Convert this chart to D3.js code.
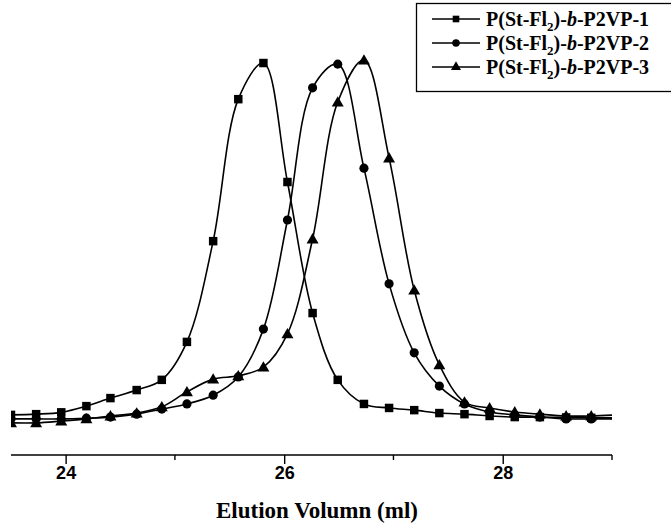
<!DOCTYPE html>
<html>
<head>
<meta charset="utf-8">
<script src="https://cdn.jsdelivr.net/npm/d3@7"></script>
<style>
  body { margin: 0; background: #fff; }
  svg { display: block; }
</style>
</head>
<body>
<svg class="mySVG"></svg>
<script>
var width = 671, height = 526;

// elution volume (ml) of each sampled point
var volume = [23.50, 23.73, 23.96, 24.19, 24.41, 24.65, 24.88, 25.11, 25.35, 25.58,
              25.81, 26.03, 26.26, 26.49, 26.73, 26.96, 27.19, 27.42, 27.65, 27.88,
              28.11, 28.34, 28.58, 28.81, 29.04];

// normalized detector response
var sample1 = [0.014, 0.016, 0.021, 0.038, 0.060, 0.082, 0.110, 0.214, 0.490, 0.879,
               0.978, 0.652, 0.293, 0.110, 0.044, 0.033, 0.027, 0.019, 0.016, 0.011,
               0.008, 0.008, 0.007, 0.006, 0.006];
var sample2 = [0.003, 0.003, 0.003, 0.005, 0.008, 0.016, 0.030, 0.044, 0.068, 0.118,
               0.249, 0.548, 0.910, 0.975, 0.690, 0.373, 0.184, 0.093, 0.044, 0.022,
               0.014, 0.008, 0.003, 0.003, 0.003];
var sample3 = [-0.008, -0.008, -0.003, 0.003, 0.011, 0.019, 0.036, 0.077, 0.112, 0.121,
               0.145, 0.236, 0.496, 0.871, 0.986, 0.718, 0.356, 0.151, 0.049, 0.033,
               0.022, 0.016, 0.011, 0.011, 0.014];

var seriesNames = ["1", "2", "3"];
var symbols = [d3.symbolSquare, d3.symbolCircle, d3.symbolTriangle];
var majorTicks = [24, 26, 28];
var minorTicks = [25, 27, 29];

var series = [sample1, sample2, sample3].map((vals, i) => ({
    name: seriesNames[i],
    symbol: symbols[i],
    points: vals.map((v, j) => ({x: volume[j], y: v}))
}));

var margin = {left: 11, right: 59, top: 55, axis: 455};

var x = d3.scaleLinear()
    .domain([23.5, 29.0])
    .range([margin.left, width - margin.right]);

var y = d3.scaleLinear()
    .domain([0, 1])
    .range([420, margin.top]);

var svg = d3.select('.mySVG')
    .attr("width", width)
    .attr("height", height);

svg.append("defs").append("clipPath")
    .attr("id", "plot")
  .append("rect")
    .attr("x", x.range()[0])
    .attr("y", 0)
    .attr("width", x.range()[1] - x.range()[0])
    .attr("height", margin.axis);

var line = d3.line()
    .x(d => x(d.x))
    .y(d => y(d.y))
    .curve(d3.curveCatmullRom.alpha(0.5));

var plot = svg.append("g").attr("clip-path", "url(#plot)");

var sym = d3.symbol();
var symSize = [72, 66, 62];

series.forEach((s, i) => {
    plot.append("path")
        .datum(s.points)
        .attr("fill", "none")
        .attr("stroke", "#000")
        .attr("stroke-width", 1.6)
        .attr("d", line);

    plot.append("g")
        .selectAll("path")
        .data(s.points)
        .join("path")
            .attr("transform", d => `translate(${x(d.x)},${y(d.y) + (i === 2 ? 1 : 0)})`)
            .attr("d", sym.type(s.symbol).size(symSize[i])())
            .attr("fill", "#000");
});

// x axis
var axis = svg.append("g")
    .attr("transform", `translate(0,${margin.axis})`);

axis.call(d3.axisBottom(x)
        .tickValues(majorTicks)
        .tickSize(9)
        .tickFormat(d3.format("d")))
    .call(g => g.select(".domain").attr("stroke-width", 1.6).attr("d", `M${x.range()[0]},0H${x.range()[1]}`))
    .call(g => g.selectAll(".tick line").attr("stroke-width", 1.4))
    .call(g => g.selectAll(".tick text")
        .attr("dy", null)
        .attr("y", 24)
        .attr("font-family", "'Liberation Sans', Arial, sans-serif")
        .attr("font-weight", "bold")
        .attr("font-size", 18));

axis.append("g")
    .selectAll("line")
    .data(minorTicks)
    .join("line")
        .attr("x1", d => x(d))
        .attr("x2", d => x(d))
        .attr("y1", 0)
        .attr("y2", 5)
        .attr("stroke", "#000")
        .attr("stroke-width", 1.4);

svg.append("text")
    .attr("x", x(26.3))
    .attr("y", 518)
    .attr("text-anchor", "middle")
    .attr("font-family", "'Liberation Serif', 'Times New Roman', serif")
    .attr("font-weight", "bold")
    .attr("font-size", 23)
    .text("Elution Volumn (ml)");

// legend
var legend = svg.append("g");

legend.append("rect")
    .attr("x", 416.5)
    .attr("y", 3.5)
    .attr("width", 270)
    .attr("height", 88)
    .attr("fill", "#fff")
    .attr("stroke", "#000")
    .attr("stroke-width", 1.3);

var rows = legend.selectAll("g.row")
    .data(series)
    .join("g")
        .attr("class", "row")
        .attr("transform", (d, i) => `translate(0,${19 + i * 24})`);

rows.append("line")
    .attr("x1", 432)
    .attr("x2", 480)
    .attr("stroke", "#000")
    .attr("stroke-width", 1.6);

rows.append("path")
    .attr("transform", "translate(456,0)")
    .attr("d", d => sym.type(d.symbol).size(44)())
    .attr("fill", "#000");

var label = rows.append("text")
    .attr("x", 486)
    .attr("y", 6.5)
    .attr("font-family", "'Liberation Serif', 'Times New Roman', serif")
    .attr("font-weight", "bold")
    .attr("font-size", 20);

label.append("tspan").text("P(St-Fl");
label.append("tspan").attr("font-size", 13).attr("dy", 5).text("2");
label.append("tspan").attr("dy", -5).text(")-");
label.append("tspan").attr("font-style", "italic").text("b");
label.append("tspan").text(d => "-P2VP-" + d.name);
</script>
</body>
</html>
